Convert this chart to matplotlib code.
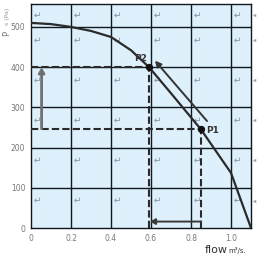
import matplotlib
matplotlib.use("Agg")
import matplotlib.pyplot as plt
import numpy as np

# Fan curve data (flow m3/s, static pressure Pa)
curve_flow = [0.0, 0.1, 0.2, 0.3, 0.4, 0.5, 0.59, 0.7, 0.85, 1.0, 1.1]
curve_ps = [510, 507, 500, 490, 475, 442, 400, 335, 245, 137, 0]

# operating points
p_names = ["P1", "P2"]
p_flow = [0.85, 0.59]
p_ps = [245, 400]

# arrows
diag_arrow_x = [0.88, 0.62]
diag_arrow_y = [266, 416]
vert_arrow_x = [0.053, 0.053]
vert_arrow_y = [247, 400]
horiz_arrow_x = [0.85, 0.595]
horiz_arrow_y = [16, 16]

x_ticks = [0, 0.2, 0.4, 0.6, 0.8, 1.0]
x_ticklabels = ["0", "0.2", "0.4", "0.6", "0.8", "1.0"]
y_ticks = [0, 100, 200, 300, 400, 500]
y_ticklabels = ["0", "100", "200", "300", "400", "500"]

fig = plt.figure(figsize=(2.68, 2.59), dpi=100)
ax = fig.add_axes([31/268, 1-228/259, 220/268, 224/259])
ax.set_facecolor("#def0fb")
ax.set_xlim(0, 1.1)
ax.set_ylim(0, 557)

# grid
grid_color = "#101820"
for xv in [0.2, 0.4, 0.6, 0.8, 1.0]:
    ax.axvline(xv, color=grid_color, lw=1.0, zorder=1)
for yv in [100, 200, 300, 400, 500]:
    ax.axhline(yv, color=grid_color, lw=1.0, zorder=1)
for s in ax.spines.values():
    s.set_color(grid_color)
    s.set_linewidth(1.0)

# cell icons
col_lefts = [0, 0.2, 0.4, 0.6, 0.8, 1.0]
row_tops = [557, 500, 400, 300, 200, 100]
for xl in col_lefts:
    for yt in row_tops:
        off = 27 if yt == 557 else 32
        ax.text(xl + 0.012, yt - off, "\u21b5", color="#7f8fa0", fontsize=6.5,
                ha="left", va="center", zorder=2)
for yt in row_tops:
    off = 27 if yt == 557 else 32
    ax.plot([1.113], [yt - off], marker="<", ms=2.5, color="#9aa4ae",
            clip_on=False, zorder=2, mec="none")

# dashed guide lines
dash_kw = dict(color="#2a2a2a", lw=1.5, ls=(0, (3.5, 1.5)), zorder=3)
ax.plot([0, p_flow[1]], [p_ps[1], p_ps[1]], **dash_kw)
ax.plot([p_flow[1], p_flow[1]], [0, p_ps[1]], **dash_kw)
ax.plot([0, p_flow[0]], [p_ps[0], p_ps[0]], **dash_kw)
ax.plot([p_flow[0], p_flow[0]], [0, p_ps[0]], **dash_kw)

# fan curve
ax.plot(curve_flow, curve_ps, color="#2b2b2b", lw=1.6, zorder=4)

# arrows
ax.annotate("", xy=(diag_arrow_x[1], diag_arrow_y[1]), xytext=(diag_arrow_x[0], diag_arrow_y[0]),
            arrowprops=dict(arrowstyle="-|>,head_length=0.35,head_width=0.18", color="#333333", lw=1.4,
                            shrinkA=0, shrinkB=0),
            zorder=4)
ax.annotate("", xy=(vert_arrow_x[1], vert_arrow_y[1]), xytext=(vert_arrow_x[0], vert_arrow_y[0]),
            arrowprops=dict(arrowstyle="-|>,head_length=0.3,head_width=0.17", color="#707070", lw=2.0,
                            shrinkA=0, shrinkB=0),
            zorder=4)
ax.annotate("", xy=(horiz_arrow_x[1], horiz_arrow_y[1]), xytext=(horiz_arrow_x[0], horiz_arrow_y[0]),
            arrowprops=dict(arrowstyle="-|>,head_length=0.3,head_width=0.17", color="#3a3a3a", lw=1.4,
                            shrinkA=0, shrinkB=0),
            zorder=4)

# points
ax.scatter(p_flow, p_ps, s=18, color="#111111", zorder=5)
ax.text(p_flow[0] + 0.025, p_ps[0] - 3, p_names[0], fontsize=6.5, fontweight="bold",
        color="#333333", ha="left", va="center", zorder=6)
ax.text(p_flow[1] - 0.01, p_ps[1] + 22, p_names[1], fontsize=6.5, fontweight="bold",
        color="#333333", ha="right", va="center", zorder=6)

# ticks
ax.set_xticks(x_ticks)
ax.set_xticklabels(x_ticklabels)
ax.set_yticks(y_ticks)
ax.set_yticklabels(y_ticklabels)
ax.tick_params(length=0, labelsize=5.5, labelcolor="#777777", pad=4)

# axis titles
fig.text(7/268, 1-33/259, "P", fontsize=6, color="#777777", rotation=90, ha="center", va="center")
fig.text(7/268, 1-16/259, "s (Pa)", fontsize=4.5, color="#999999", rotation=90, ha="center", va="center")
fig.text(205/268, 1-250/259, "flow", fontsize=8, color="#333333", ha="left", va="center")
fig.text(228/268, 1-251/259, "m\u00b3/s.", fontsize=5, color="#333333", ha="left", va="center")

fig.savefig("out.png", dpi=100)
